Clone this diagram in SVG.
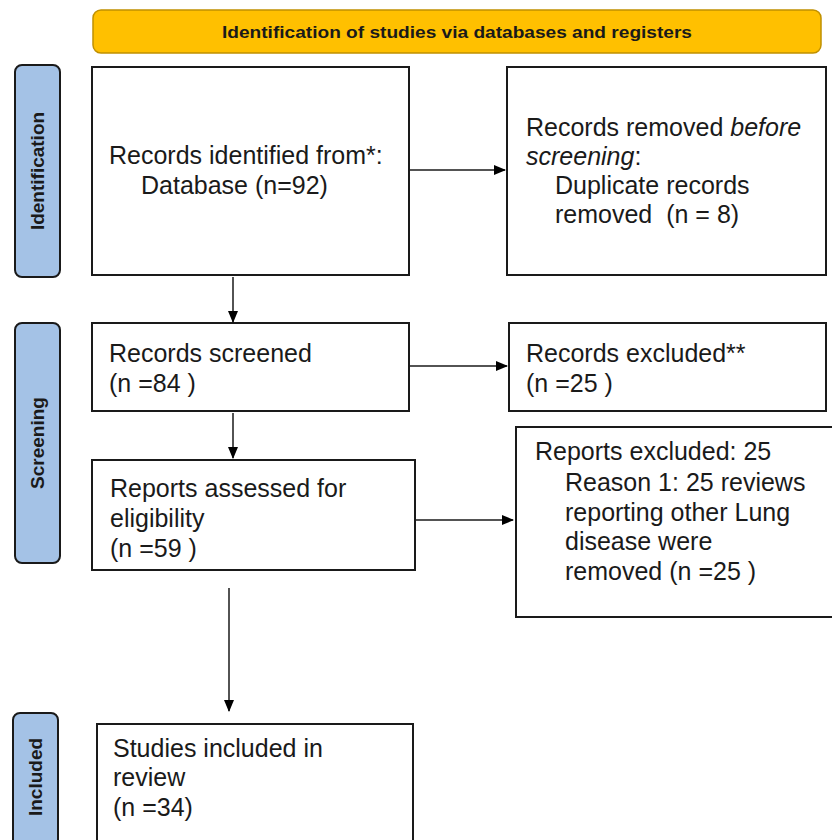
<svg xmlns="http://www.w3.org/2000/svg" width="832" height="840" viewBox="0 0 832 840">
<defs>
<marker id="ah" markerWidth="12" markerHeight="10" refX="11" refY="5" orient="auto" markerUnits="userSpaceOnUse">
<path d="M0,0 L12,5 L0,10 Z" fill="#000"/>
</marker>
<style>
.box{fill:#fff;stroke:#1a1a1a;stroke-width:2}
.side{fill:#a4c2e6;stroke:#1a1a1a;stroke-width:2}
.t{font-family:"Liberation Sans",Arial,sans-serif;font-size:25px;fill:#1a1a1a}
.st{font-family:"Liberation Sans",Arial,sans-serif;font-size:19px;font-weight:bold;fill:#1a1a1a}
.bt{font-family:"Liberation Sans",Arial,sans-serif;font-size:17px;font-weight:bold;fill:#1a1a1a}
.conn{stroke:#1a1a1a;stroke-width:1.5;fill:none;marker-end:url(#ah)}
</style>
</defs>
<rect width="832" height="840" fill="#fff"/>
<g id="banner">
<rect x="93" y="10" width="728" height="43" rx="8" fill="#ffc000" stroke="#c09000" stroke-width="1.5"/>
<text x="457" y="38" text-anchor="middle" class="bt" textLength="470" lengthAdjust="spacingAndGlyphs">Identification of studies via databases and registers</text>
</g>
<g id="side-identification">
<rect x="15" y="65" width="45" height="212" rx="7" class="side"/>
<text class="st" transform="translate(44,171) rotate(-90)" text-anchor="middle">Identification</text>
</g>
<g id="side-screening">
<rect x="15" y="323" width="45" height="240" rx="7" class="side"/>
<text class="st" transform="translate(44,443) rotate(-90)" text-anchor="middle">Screening</text>
</g>
<g id="side-included">
<rect x="13" y="713" width="45" height="140" rx="7" class="side"/>
<text class="st" transform="translate(42,777) rotate(-90)" text-anchor="middle">Included</text>
</g>
<g id="records-identified">
<rect x="92" y="67" width="317" height="208" class="box"/>
<text class="t" x="109" y="164">Records identified from*:</text>
<text class="t" x="141" y="194">Database (n=92)</text>
</g>
<g id="records-removed">
<rect x="507" y="67" width="319" height="208" class="box"/>
<text class="t" x="526" y="136">Records removed <tspan font-style="italic">before</tspan></text>
<text class="t" x="526" y="165"><tspan font-style="italic">screening</tspan>:</text>
<text class="t" x="555" y="194">Duplicate records</text>
<text class="t" x="555" y="223" xml:space="preserve">removed  (n = 8)</text>
</g>
<g id="records-screened">
<rect x="92" y="323" width="317" height="88" class="box"/>
<text class="t" x="109" y="362">Records screened</text>
<text class="t" x="109" y="392">(n =84 )</text>
</g>
<g id="records-excluded">
<rect x="509" y="323" width="317" height="88" class="box"/>
<text class="t" x="526" y="362">Records excluded**</text>
<text class="t" x="526" y="392">(n =25 )</text>
</g>
<g id="reports-assessed">
<rect x="92" y="460" width="323" height="110" class="box"/>
<text class="t" x="110" y="497">Reports assessed for</text>
<text class="t" x="110" y="527">eligibility</text>
<text class="t" x="110" y="557">(n =59 )</text>
</g>
<g id="reports-excluded">
<rect x="516" y="427" width="320" height="190" class="box"/>
<text class="t" x="535" y="460">Reports excluded: 25</text>
<text class="t" x="565" y="491">Reason 1: 25 reviews</text>
<text class="t" x="565" y="521">reporting other Lung</text>
<text class="t" x="565" y="550">disease were</text>
<text class="t" x="565" y="580">removed (n =25 )</text>
</g>
<g id="studies-included">
<rect x="97" y="724" width="316" height="130" class="box"/>
<text class="t" x="113" y="757">Studies included in</text>
<text class="t" x="113" y="786">review</text>
<text class="t" x="113" y="816">(n =34)</text>
</g>
<g id="connectors">
<line x1="409" y1="170" x2="505" y2="170" class="conn"/>
<line x1="409" y1="366" x2="507" y2="366" class="conn"/>
<line x1="416" y1="520" x2="513" y2="520" class="conn"/>
<line x1="233" y1="277" x2="233" y2="322" class="conn"/>
<line x1="233" y1="413" x2="233" y2="458" class="conn"/>
<line x1="229" y1="588" x2="229" y2="711" class="conn"/>
</g>
</svg>
